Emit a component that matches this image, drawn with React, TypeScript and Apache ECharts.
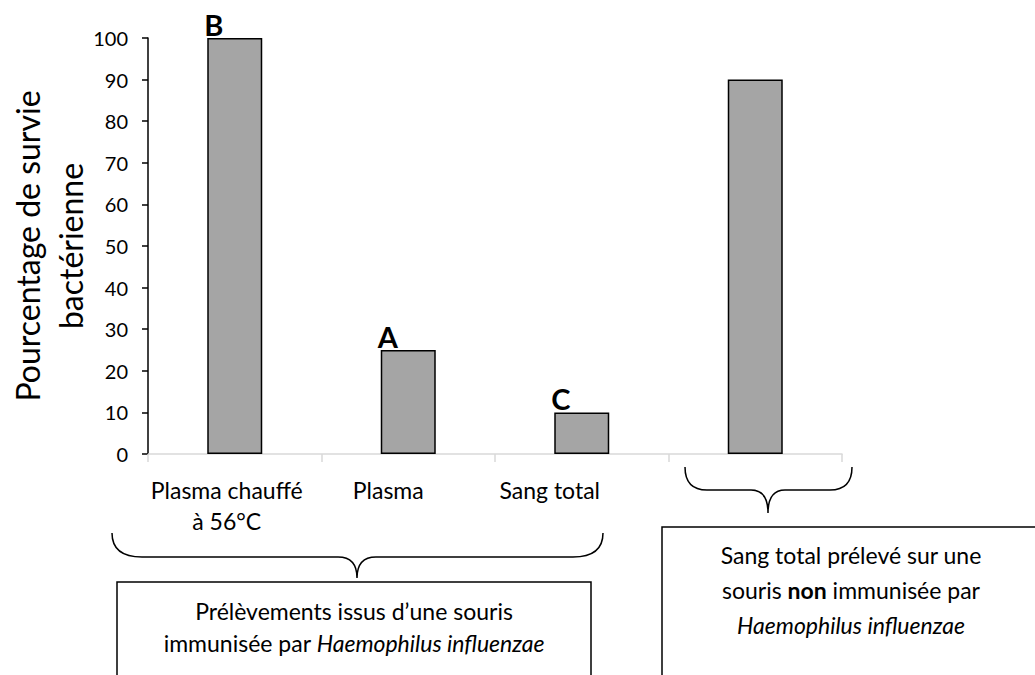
import React, { useEffect, useRef } from "react";
import * as echarts from "echarts";

const categories = ["Plasma chauffé\nà 56°C", "Plasma", "Sang total", ""];
const survival = [100, 25, 10, 90];
const letters = ["B", "A", "C", ""];
const yTicks = { min: 0, max: 100, interval: 10 };
const yTitle = "Pourcentage de survie\nbactérienne";
const group1Text = "Prélèvements issus d’une souris\nimmunisée par {i|Haemophilus influenzae}";
const group2Text = "Sang total prélevé sur une\nsouris {b|non} immunisée par\n{i|Haemophilus influenzae}";

// label shifts (layout only)
const labelShift = [8, 20, 32, 0];

const FONT = "Lato";
const CAT_FS = 23;
const BOX_FS = 23;

echarts.graphic.registerShape(
  "brace1",
  echarts.graphic.extendPath(
    "M112 533 Q112 557 142 557 L338 557 Q357 557 357 578 Q357 557 376 557 L573 557 Q603 557 603 533",
    {}
  )
);
echarts.graphic.registerShape(
  "brace2",
  echarts.graphic.extendPath(
    "M685 467 Q685 490 707 490 L751 490 Q768 490 768 513 Q768 490 785 490 L830 490 Q852 490 852 467",
    {}
  )
);

export default function App() {
  const ref = useRef<HTMLDivElement>(null);
  useEffect(() => {
    document.body.style.margin = "0";
    const chart = echarts.init(ref.current!, null, { renderer: "svg" });
    const option: any = {
      animation: false,
      backgroundColor: "#ffffff",
      textStyle: { fontFamily: FONT },
      grid: {
        left: 148,
        right: 193,
        top: 38,
        bottom: 221,
        containLabel: false,
        outerBoundsMode: "none",
      },
      xAxis: {
        type: "category",
        data: categories.map((c, i) => ({
          value: c,
          textStyle: {
            padding: [0, labelShift[i] * 2, 0, 0],
            fontSize: CAT_FS,
            lineHeight: 31,
            fontFamily: FONT,
            color: "#000",
          },
        })),
        axisLine: { lineStyle: { color: "#d9d9d9", width: 1.5 } },
        axisTick: { show: true, length: 8, lineStyle: { color: "#d9d9d9", width: 1.5 } },
        axisLabel: {
          color: "#000",
          fontSize: CAT_FS,
          lineHeight: 31,
          margin: 20,
          fontFamily: FONT,
          interval: 0,
        },
      },
      yAxis: {
        type: "value",
        min: yTicks.min,
        max: yTicks.max,
        interval: yTicks.interval,
        name: yTitle,
        nameLocation: "middle",
        nameGap: 56,
        nameMoveOverlap: false,
        nameTextStyle: { color: "#000", fontSize: 32, lineHeight: 43, fontFamily: FONT },
        axisLine: { show: true, lineStyle: { color: "#000", width: 1.5 } },
        axisTick: { show: true, length: 6, lineStyle: { color: "#000", width: 1.5 } },
        axisLabel: { color: "#000", fontSize: 20, margin: 20, fontFamily: FONT },
        splitLine: { show: false },
      },
      series: [
        {
          type: "bar",
          data: survival,
          barWidth: 55,
          itemStyle: { color: "#a5a5a5", borderColor: "#000", borderWidth: 1.5 },
          label: {
            show: true,
            position: [-3, 1],
            align: "left",
            verticalAlign: "bottom",
            fontSize: 29,
            fontWeight: "bold",
            color: "#000",
            fontFamily: FONT,
            formatter: (p: any) => letters[p.dataIndex],
          },
        },
      ],
      graphic: [
        { type: "brace1", x: 0, y: 0, style: { fill: "none", stroke: "#000", lineWidth: 1.5 } },
        { type: "brace2", x: 0, y: 0, style: { fill: "none", stroke: "#000", lineWidth: 1.5 } },
        {
          type: "rect",
          shape: { x: 117, y: 582, width: 474, height: 130 },
          style: { fill: "#fff", stroke: "#000", lineWidth: 1.5 },
        },
        {
          type: "rect",
          shape: { x: 662, y: 527, width: 420, height: 180 },
          style: { fill: "#fff", stroke: "#000", lineWidth: 1.5 },
        },
        {
          type: "text",
          x: 354,
          y: 595,
          style: {
            text: group1Text,
            fill: "#000",
            fontSize: BOX_FS,
            fontFamily: FONT,
            lineHeight: 32,
            align: "center",
            verticalAlign: "top",
            rich: {
              i: { fontStyle: "italic", fontSize: BOX_FS, fontFamily: FONT, lineHeight: 32 },
            },
          },
        },
        {
          type: "text",
          x: 851,
          y: 537,
          style: {
            text: group2Text,
            fill: "#000",
            fontSize: BOX_FS,
            fontFamily: FONT,
            lineHeight: 35,
            align: "center",
            verticalAlign: "top",
            rich: {
              i: { fontStyle: "italic", fontSize: BOX_FS, fontFamily: FONT, lineHeight: 35 },
              b: { fontWeight: "bold", fontSize: BOX_FS, fontFamily: FONT, lineHeight: 35 },
            },
          },
        },
      ],
    };
    chart.setOption(option);
    return () => chart.dispose();
  }, []);
  return (
    <div
      ref={ref}
      style={{ position: "fixed", left: 0, top: 0, width: 1035, height: 675, background: "#fff" }}
    />
  );
}
